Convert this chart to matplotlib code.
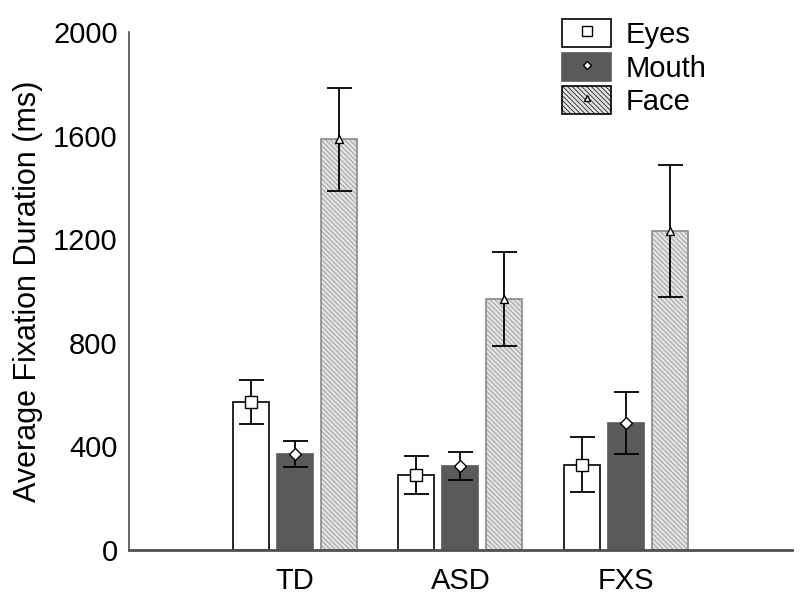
import numpy as np
import matplotlib
matplotlib.use("Agg")
import matplotlib.pyplot as plt
from matplotlib.patches import Patch
from matplotlib.lines import Line2D

plt.rcParams['font.family'] = ['Liberation Sans', 'DejaVu Sans']
plt.rcParams['hatch.linewidth'] = 0.5
plt.rcParams['hatch.color'] = '#8c8c8c'

groups = ["TD", "ASD", "FXS"]
regions = ["Eyes", "Mouth", "Face"]
eyes = [570, 290, 330]
mouth = [372, 325, 490]
face = [1585, 970, 1230]
eyes_err = [85, 72, 105]
mouth_err = [50, 55, 120]
face_err = [197, 182, 255]

means = [eyes, mouth, face]
errs = [eyes_err, mouth_err, face_err]
fills = ["white", "#5a5a5a", "#e2e2e2"]
edges = ["black", "#5a5a5a", "#8a8a8a"]
hatches = [None, None, "\\\\\\\\\\\\\\"]
markers = ["s", "D", "^"]
msizes = [8, 6, 6]

fig = plt.figure(figsize=(8, 6), dpi=100)
ax = fig.add_axes([0.161, 0.0833, 0.829, 0.8634])

x = np.arange(1, len(groups) + 1)
width = 0.217
offset = 0.265
handles = []
for i in range(3):
    xs = x + (i - 1) * offset
    ax.bar(xs, means[i], width, color=fills[i], edgecolor=edges[i],
           hatch=hatches[i], linewidth=1.2, zorder=2)
    ax.errorbar(xs, means[i], yerr=errs[i], fmt="none", ecolor="black",
                elinewidth=1.3, capsize=9, capthick=1.3, zorder=3)
    ax.plot(xs, means[i], linestyle="none", marker=markers[i], markersize=msizes[i],
            markerfacecolor="white", markeredgecolor="black", markeredgewidth=1, zorder=4)
    p = Patch(facecolor=fills[i], edgecolor="black" if i != 1 else "#5a5a5a",
              hatch=hatches[i], linewidth=1.2)
    m = Line2D([], [], linestyle="none", marker=markers[i], markersize=msizes[i] - 1.5,
               markerfacecolor="white", markeredgecolor="black", markeredgewidth=1)
    handles.append((p, m))

ax.set_xlim(0, 4)
ax.set_ylim(0, 2000)
ax.set_yticks([0, 400, 800, 1200, 1600, 2000])
ax.set_xticks(x)
ax.set_xticklabels(groups)
ax.tick_params(axis="both", length=0, labelsize=21)
ax.tick_params(axis="x", pad=12)
ax.tick_params(axis="y", pad=8)
ax.set_ylabel("Average Fixation Duration (ms)", fontsize=22, labelpad=7)

for s in ["top", "right"]:
    ax.spines[s].set_visible(False)
ax.spines["bottom"].set_color("#505050")
ax.spines["bottom"].set_linewidth(2)
ax.spines["left"].set_color("#505050")
ax.spines["left"].set_linewidth(1.2)

ax.legend(handles, regions, loc="upper right", bbox_to_anchor=(0.91, 1.075),
          frameon=False, fontsize=21, handlelength=1.65, handleheight=1.1,
          labelspacing=0.12, handletextpad=0.5)

fig.savefig("out.png", dpi=100)
